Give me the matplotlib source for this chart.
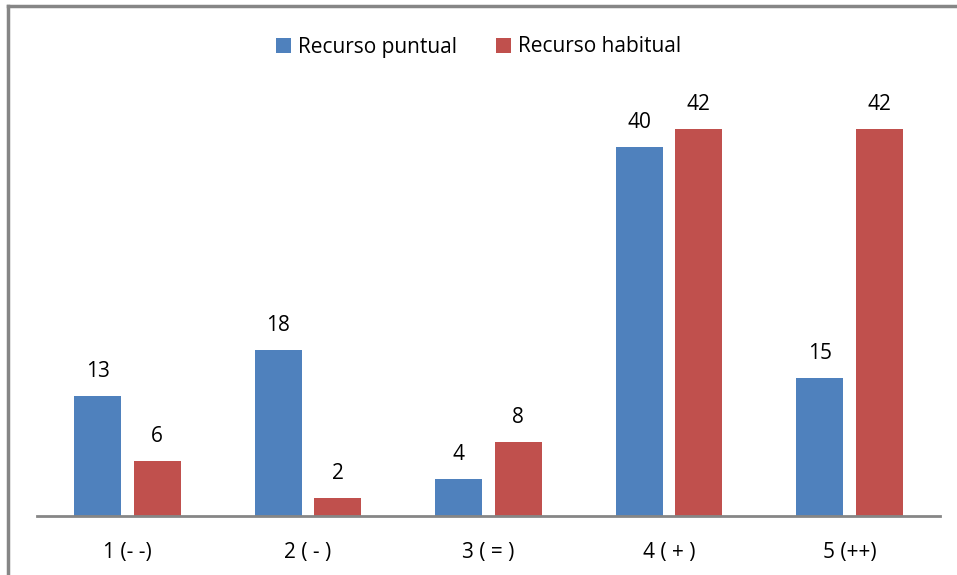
import matplotlib
matplotlib.use("Agg")
import matplotlib.pyplot as plt
from matplotlib.lines import Line2D
import numpy as np

categories = ["1 (- -)", "2 ( - )", "3 ( = )", "4 ( + )", "5 (++)"]
puntual = [13, 18, 4, 40, 15]
habitual = [6, 2, 8, 42, 42]
series_names = ["Recurso puntual", "Recurso habitual"]
colors = ["#4F81BD", "#C0504D"]

plt.rcParams['font.family'] = ['Open Sans', 'DejaVu Sans']

W, H = 957, 575
fig = plt.figure(figsize=(W / 100, H / 100), dpi=100)
ax = fig.add_axes([37 / W, (H - 516) / H, (940 - 37) / W, (516 - 101) / H])

x = np.arange(len(categories))
bw = 0.26
off = 0.165
b1 = ax.bar(x - off, puntual, bw, color=colors[0], label=series_names[0])
b2 = ax.bar(x + off, habitual, bw, color=colors[1], label=series_names[1])

for bars in (b1, b2):
    for r in bars:
        ax.annotate(f"{int(r.get_height())}", (r.get_x() + r.get_width() / 2, r.get_height()),
                    xytext=(0, 10), textcoords="offset points", ha="center", va="bottom",
                    fontsize=15, color="black")

ax.set_xlim(-0.5, len(categories) - 0.5)
ax.set_ylim(0, 45)
ax.set_xticks(x)
ax.set_xticklabels(categories, fontsize=15)
ax.tick_params(axis="x", length=0, pad=19)
ax.set_yticks([])
for s in ["top", "right", "left"]:
    ax.spines[s].set_visible(False)
ax.spines["bottom"].set_color("#868686")
ax.spines["bottom"].set_linewidth(2)

leg = fig.legend(handles=[b1, b2], labels=series_names, loc="center", bbox_to_anchor=(0.5, 1 - 47 / H),
                 ncol=2, frameon=False, fontsize=15, handlelength=0.72, handleheight=0.72,
                 handletextpad=0.34, columnspacing=1.9)

# outer frame (left and top edges visible)
fig.add_artist(Line2D([8 / W, 8 / W], [0, 1 - 6 / H], transform=fig.transFigure, color="#868686", lw=2.5))
fig.add_artist(Line2D([8 / W, 1], [1 - 6 / H, 1 - 6 / H], transform=fig.transFigure, color="#868686", lw=2.5))

fig.savefig("out.png", dpi=100)
